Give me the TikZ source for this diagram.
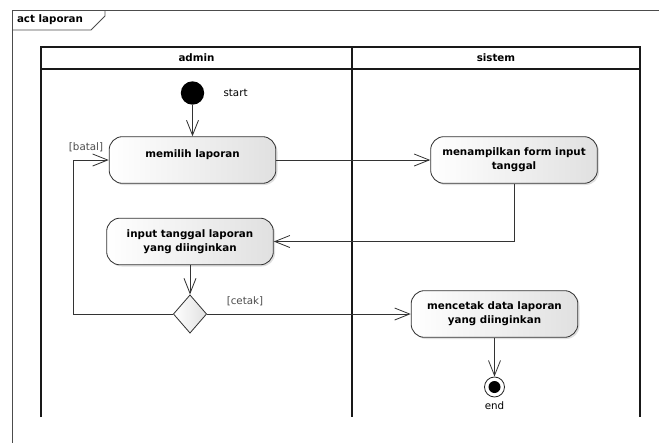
\documentclass[tikz,border=0pt]{standalone}
\usepackage{fontspec}
\setmainfont{DejaVu Sans}
\usepackage{tikz}
\usetikzlibrary{positioning,arrows.meta,shapes.geometric,shadows}

\begin{document}
\begin{tikzpicture}[
x=0.03cm,
y=-0.03cm,
>={Straight Barb[length=4.5mm,width=3.6mm]},
font=\fontsize{8.8}{12}\selectfont,
activity/.style={
draw=black!80,
line width=0.7pt,
rounded corners=0.4cm,
minimum width=5cm,
minimum height=1.4cm,
align=center,
font=\fontsize{8.8}{12}\selectfont\bfseries,
left color=white,
right color=black!12,
drop shadow={opacity=0.25,shadow xshift=0.05cm,shadow yshift=-0.05cm}
},
decision/.style={
diamond,
draw=black!80,
line width=0.7pt,
minimum width=1cm,
minimum height=1.15cm,
inner sep=0pt,
left color=white,
right color=black!12
},
startnode/.style={
circle,
fill=black,
minimum size=0.7cm,
inner sep=0pt
},
endnode/.style={
circle,
draw=black!85,
line width=0.7pt,
fill=white,
minimum size=0.6cm,
inner sep=0pt,
path picture={\fill[black] (path picture bounding box.center) circle (0.18cm);}
},
guard/.style={
text=black!70,
inner sep=1pt
},
lanehead/.style={
font=\fontsize{8.8}{12}\selectfont\bfseries
},
lane/.style={
draw=black!90,
line width=1.1pt
},
frame/.style={
draw=black!70,
line width=0.8pt
},
flow/.style={
->,
draw=black!80,
line width=0.7pt
}
]

\useasboundingbox (0,0) rectangle (659,443);

%%%%%%%%%%%%%%%%%%%%%%%%%%%%%%%%%%%%%%%%%%%%%
% Frame and Swimlanes
%%%%%%%%%%%%%%%%%%%%%%%%%%%%%%%%%%%%%%%%%%%%%

\draw[frame] (659,10) -- (12,10) -- (12,443);
\draw[frame] (105,10) -- (105,16) -- (91,30) -- (12,30);
\node[font=\fontsize{8.8}{12}\selectfont\bfseries] (title) at (50,20) {act laporan};

\draw[lane] (41,417) -- (41,47) -- (640,47) -- (640,417);
\draw[lane] (41,69) -- (640,69);
\draw[lane] (352,47) -- (352,417);

\node[lanehead] (admin) at (196.5,58) {admin};
\node[lanehead] (sistem) at (496,58) {sistem};

%%%%%%%%%%%%%%%%%%%%%%%%%%%%%%%%%%%%%%%%%%%%%
% Activities
%%%%%%%%%%%%%%%%%%%%%%%%%%%%%%%%%%%%%%%%%%%%%

\node[startnode] (start) at (192.5,93) {};
\node[right=0.45cm of start] (startlabel) {start};

\node[activity] (memilih) at (192.5,160)
{\raisebox{0.4cm}{memilih laporan}};

\node[activity] (tampil) at (514,160)
{menampilkan form input\\
tanggal};

\node[activity] (input) at (190,241.5)
{input tanggal laporan\\
yang diinginkan};

\node[decision] (dec) at (190,314) {};

\node[activity] (cetak) at (494.5,314)
{mencetak data laporan\\
yang diinginkan};

\node[endnode] (end) at (494.5,387) {};
\node[below=0pt of end] (endlabel) {end};

\coordinate (loop) at (73,314);

%%%%%%%%%%%%%%%%%%%%%%%%%%%%%%%%%%%%%%%%%%%%%
% Guards
%%%%%%%%%%%%%%%%%%%%%%%%%%%%%%%%%%%%%%%%%%%%%

\node[guard] (batal) at (86,147) {[batal]};
\node[guard] (cetaklabel) at (245,301) {[cetak]};

%%%%%%%%%%%%%%%%%%%%%%%%%%%%%%%%%%%%%%%%%%%%%
% Connections
%%%%%%%%%%%%%%%%%%%%%%%%%%%%%%%%%%%%%%%%%%%%%

\draw[flow] (start)--(memilih);

\draw[flow] (memilih)--(tampil);

\draw[flow] (tampil.south) |- (input.east);

\draw[flow] (input)--(dec);

\draw[flow] (dec.west)--(loop) |- (memilih.west);

\draw[flow] (dec)--(cetak);

\draw[flow] (cetak)--(end);

\end{tikzpicture}
\end{document}
